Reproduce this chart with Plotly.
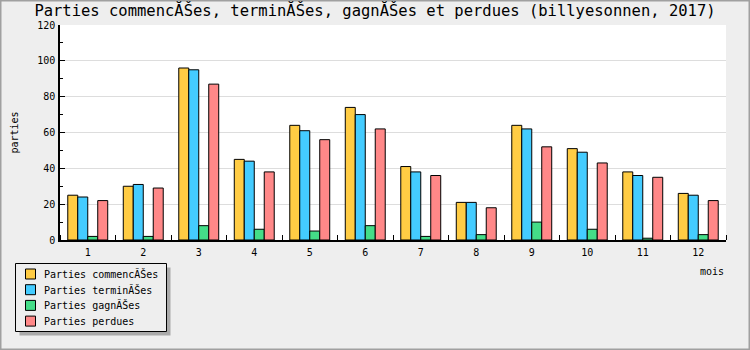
import plotly.graph_objects as go

months = ["1", "2", "3", "4", "5", "6", "7", "8", "9", "10", "11", "12"]
started = [25, 30, 96, 45, 64, 74, 41, 21, 64, 51, 38, 26]
finished = [24, 31, 95, 44, 61, 70, 38, 21, 62, 49, 36, 25]
won = [2, 2, 8, 6, 5, 8, 2, 3, 10, 6, 1, 3]
lost = [22, 29, 87, 38, 56, 62, 36, 18, 52, 43, 35, 22]

series_names = ["Parties commencĂŠes", "Parties terminĂŠes", "Parties gagnĂŠes", "Parties perdues"]
series_colors = ["#FFCC44", "#44CCFF", "#44DD88", "#FF8888"]
y_ticks = [0, 20, 40, 60, 80, 100, 120]

FONT = "DejaVu Sans Mono"
W, H = 750, 350
L, R, T, B = 60, 24, 25, 110
PW, PH = W - L - R, H - T - B


def px(x):
    return (x - L) / PW


def py(y):
    return (H - B - y) / PH


xs = list(range(1, len(months) + 1))
fig = go.Figure()
for name, color, vals in zip(series_names, series_colors, [started, finished, won, lost]):
    fig.add_trace(go.Bar(
        x=xs, y=vals, name=name, showlegend=False,
        marker=dict(color=color, line=dict(color="black", width=1)),
    ))

fig.update_layout(
    width=W, height=H,
    margin=dict(l=L, r=R, t=T, b=B, autoexpand=False),
    paper_bgcolor="#EEEEEE", plot_bgcolor="white",
    barmode="group", bargap=0.28, bargroupgap=0,
    font=dict(family=FONT, size=10, color="black"),
    title=dict(text="Parties commencĂŠes, terminĂŠes, gagnĂŠes et perdues (billyesonnen, 2017)",
               x=0.5, xanchor="center", y=1 - 11 / H, yanchor="middle",
               font=dict(family=FONT, size=15.5, color="black")),
    xaxis=dict(range=[0.5, 12.5], tickvals=xs, ticktext=months, ticks="",
               showline=True, linecolor="black", linewidth=1.5, showgrid=False,
               zeroline=False, ticklabelstandoff=2,
               minor=dict(tick0=0.5, dtick=1, ticks="inside", ticklen=5, tickcolor="black", showgrid=False)),
    yaxis=dict(range=[0, 120], tickvals=y_ticks, ticks="inside", ticklen=5, tickcolor="black",
               showline=True, linecolor="black", linewidth=1.5, showgrid=True,
               gridcolor="#DDDDDD", zeroline=False, ticklabelstandoff=1,
               title=dict(text="parties", standoff=17, font=dict(family=FONT, size=10)),
               minor=dict(dtick=10, ticks="inside", ticklen=3, tickcolor="black", showgrid=False)),
)

# legend: shadow, frame, colour keys and labels
LX0, LX1, LY0, LY1 = 15.5, 166.5, 263.5, 331.5
fig.add_shape(type="rect", xref="paper", yref="paper",
              x0=px(LX0 + 4), x1=px(LX1 + 4), y0=py(LY0 + 4), y1=py(LY1 + 4),
              fillcolor="#AAAAAA", line=dict(width=0))
fig.add_shape(type="rect", xref="paper", yref="paper",
              x0=px(LX0), x1=px(LX1), y0=py(LY0), y1=py(LY1),
              fillcolor="#EEEEEE", line=dict(color="black", width=1))
for i, (name, color) in enumerate(zip(series_names, series_colors)):
    cy = 274 + i * 15.7
    fig.add_shape(type="rect", xref="paper", yref="paper",
                  x0=px(25.5), x1=px(35.5), y0=py(cy - 5), y1=py(cy + 5),
                  fillcolor=color, line=dict(color="black", width=1))
    fig.add_annotation(text=name, xref="paper", yref="paper", x=px(42), y=py(cy),
                       xanchor="left", yanchor="middle", showarrow=False,
                       font=dict(family=FONT, size=10, color="black"))

# outer border
fig.add_shape(type="rect", xref="paper", yref="paper",
              x0=px(0.75), x1=px(W - 0.75), y0=py(0.75), y1=py(H - 0.75),
              fillcolor="rgba(0,0,0,0)", line=dict(color="#A0A0A0", width=1.5))

fig.add_annotation(text="mois", xref="paper", yref="paper", x=1, y=py(271),
                   xanchor="right", yanchor="middle", showarrow=False,
                   font=dict(family=FONT, size=10, color="black"))

fig.write_html("out.html")
